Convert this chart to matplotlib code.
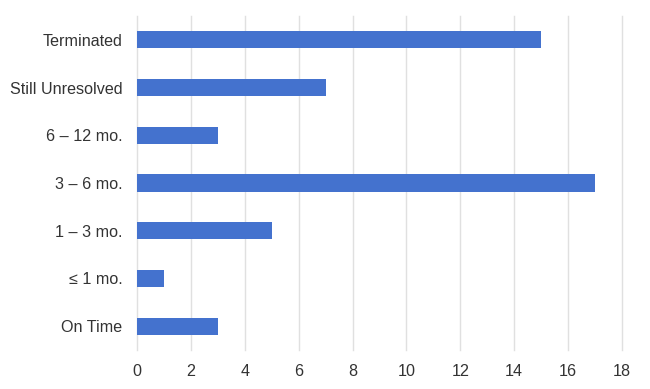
import matplotlib
matplotlib.use("Agg")
import matplotlib.pyplot as plt

categories = ["Terminated", "Still Unresolved", "6 – 12 mo.", "3 – 6 mo.", "1 – 3 mo.", "≤ 1 mo.", "On Time"]
values = [15, 7, 3, 17, 5, 1, 3]
xticks = [0, 2, 4, 6, 8, 10, 12, 14, 16, 18]

plt.rcParams['font.family'] = ['Liberation Sans', 'DejaVu Sans']

fig = plt.figure(figsize=(6.5, 3.89), dpi=100)
ax = fig.add_axes([137/650, 1 - 350/389, (622 - 137)/650, (350 - 16)/389])

ypos = list(range(len(categories)))[::-1]
ax.barh(ypos, values, height=0.36, color='#4472CE', zorder=3)

ax.set_xlim(0, 18)
ax.set_ylim(-0.5, len(categories) - 0.5)
ax.set_xticks(xticks)
ax.set_xticklabels([str(t) for t in xticks])
ax.set_yticks(ypos)
ax.set_yticklabels(categories)
ax.grid(axis='x', color='#e0e0e0', linewidth=1.0, zorder=0)
for gl in ax.get_xgridlines():
    gl.set_clip_on(False)
ax.grid(axis='y', visible=False)
for s in ax.spines.values():
    s.set_visible(False)
ax.tick_params(axis='both', length=0, labelsize=11.6, colors='#333333')
ax.tick_params(axis='x', pad=10)
ax.tick_params(axis='y', pad=10.5)

fig.savefig("out.png", dpi=100)
